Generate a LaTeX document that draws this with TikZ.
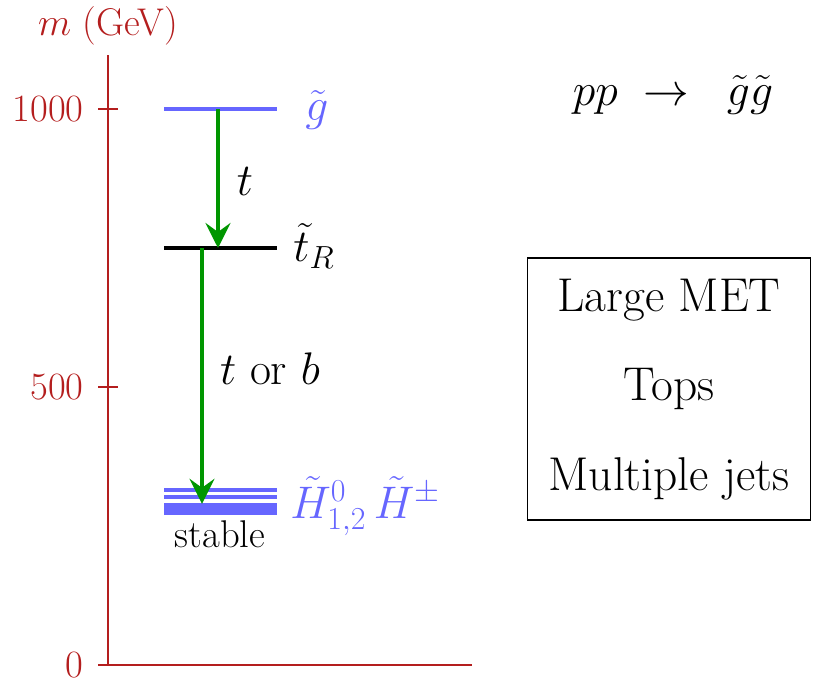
\RequirePackage{fix-cm}
\documentclass[tikz,border=0pt]{standalone}
\usepackage{amsmath,amssymb}
\usepackage{tikz}
\usetikzlibrary{arrows.meta,positioning}
\definecolor{AxisRed}{HTML}{B41E1E}
\definecolor{LevelBlue}{HTML}{6666FF}
\definecolor{DecayGreen}{HTML}{009600}

\begin{document}
\begin{tikzpicture}[
    x=0.02cm,y=0.01112cm,
    axis/.style={AxisRed,line width=0.9pt},
    level/.style={line width=1.9pt},
    decay/.style={-{Stealth[length=5mm,width=5mm,inset=1.8mm]},line width=2.2pt,color=DecayGreen},
    lab/.style={inner sep=0pt,font=\fontsize{26}{31}\selectfont},
    ticklabel/.style={inner sep=0pt,font=\fontsize{22}{26}\selectfont,AxisRed,anchor=east},
    signature/.style={draw,line width=1pt,align=center,minimum width=5.66cm,minimum height=5.24cm,font=\fontsize{27}{51}\selectfont}
  ]
  \useasboundingbox (-108,-27) rectangle (705,1196);
  % mass axis
  \draw[axis] (0,0) -- (0,1097);
  \draw[axis] (-10,0) -- (364,0);
  \foreach \m in {0,500,1000} {
    \draw[axis] (-10,\m) -- (10,\m);
    \node[ticklabel] (tick\m) at (-24,\m) {\m};
  }
  \node[ticklabel,anchor=base] (unit) at (0,1133) {$m$ (GeV)};

  % levels
  \draw[level,LevelBlue] (56,1000) coordinate (gl) -- (169,1000) coordinate (gr);
  \draw[level,black] (56,750) coordinate (sl) -- (169,750) coordinate (sr);
  \foreach \m in {315,302} {
    \draw[level,LevelBlue] (56,\m) -- (169,\m);
  }
  \draw[LevelBlue,line width=6.8pt] (56,281) coordinate (hl) -- (169,281) coordinate (hr);

  \node[lab,LevelBlue,anchor=base west] (gluino) at (197,980) {$\tilde g$};
  \node[lab,anchor=base west] (stop) at (185,725) {$\tilde t_R$};
  \node[lab,LevelBlue,anchor=base west] (higgsino) at (182,264) {$\tilde H^0_{1,2}\,\tilde H^\pm$};
  \node[inner sep=0pt,anchor=base,font=\fontsize{22}{26}\selectfont] (stable) at (112,212) {stable};

  % decays
  \coordinate (gdecay) at (110,1000);
  \coordinate (sprod) at (110,750);
  \coordinate (sdecay) at (94,750);
  \coordinate (hprod) at (94,290);
  \draw[decay] (gdecay) -- (sprod);
  \draw[decay] (sdecay) -- (hprod);
  \node[lab,anchor=base] (tlab) at (137,845) {$t$};
  \node[lab,anchor=base] (tblab) at (162,504) {$t$ or $b$};

  % process and signature
  \node[lab,anchor=base,font=\fontsize{26}{31}\selectfont] (process) at (565,1007) {$pp\;\rightarrow\;\;\tilde g\tilde g$};
  \node[signature] (sig) at (561,496) {Large MET\\Tops\\Multiple jets};
\end{tikzpicture}
\end{document}
